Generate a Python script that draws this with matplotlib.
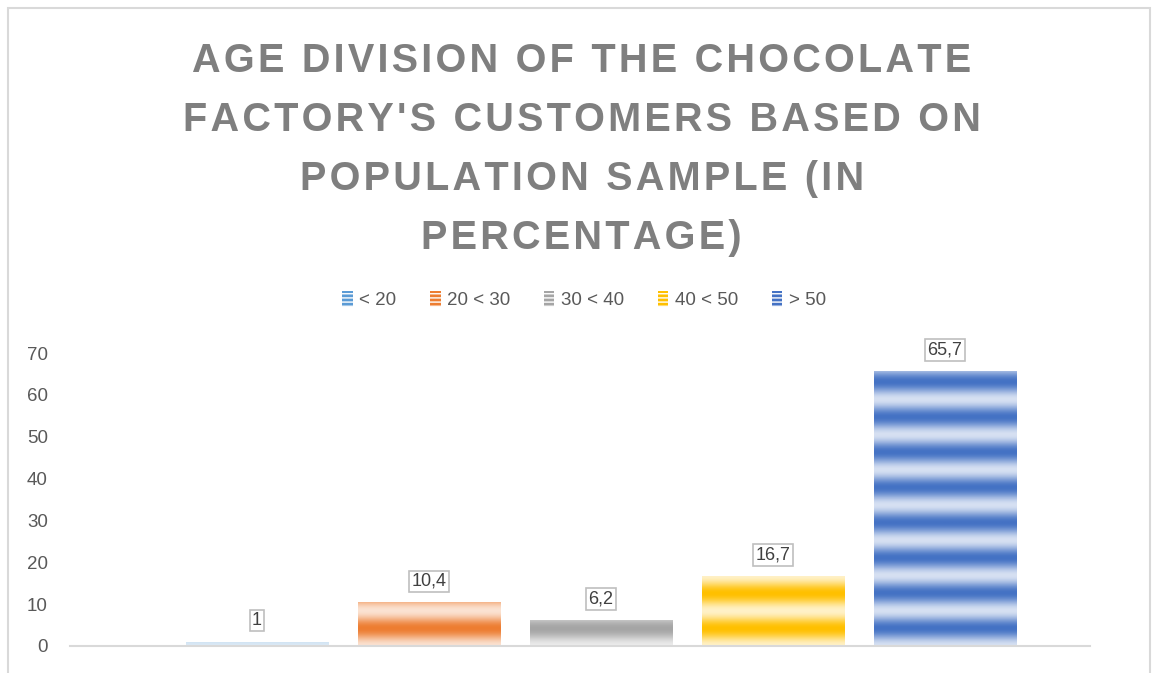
import matplotlib.pyplot as plt
import numpy as np
from matplotlib.patches import Rectangle, Patch
from matplotlib.colors import LinearSegmentedColormap, to_rgb

# data
groups = ['< 20', '20 < 30', '30 < 40', '40 < 50', '> 50']
values = [1, 10.4, 6.2, 16.7, 65.7]
labels = ['1', '10,4', '6,2', '16,7', '65,7']
colors = ['#5b9bd5', '#ed7d31', '#a5a5a5', '#ffc000', '#4472c4']

title_lines = ["AGE DIVISION OF THE CHOCOLATE",
               "FACTORY'S CUSTOMERS BASED ON",
               "POPULATION SAMPLE (IN",
               "PERCENTAGE)"]

plt.rcParams['font.family'] = ['Liberation Sans', 'DejaVu Sans']

fig = plt.figure(figsize=(11.52, 6.73), dpi=100)
ax = fig.add_axes([70 / 1152, 27 / 673, 1020 / 1152, 293 / 673])

bar_w = 142 / 172
period = 8.4  # stripe period in data units

for i, (v, c) in enumerate(zip(values, colors)):
    rgb = np.array(to_rgb(c))
    light = rgb + (1 - rgb) * 0.78
    cmap = LinearSegmentedColormap.from_list('g%d' % i, [light, rgb])
    # striped fill clipped to the bar
    rect = ax.bar(i, v, width=bar_w, color='none', edgecolor='none')[0]
    ys = np.linspace(0, v, 400)
    grad = (1 - np.cos(2 * np.pi * ys / period)) / 2
    im = ax.imshow(grad[::-1, None], cmap=cmap, aspect='auto',
                   extent=(i - bar_w / 2, i + bar_w / 2, 0, v),
                   vmin=0, vmax=1, zorder=2)
    im.set_clip_path(rect)
    ax.text(i, v + 21 / 293 * 70, labels[i], ha='center', va='center',
            fontsize=13, color='#404040', zorder=4,
            bbox=dict(boxstyle='square,pad=0.12', fc='white', ec='#bfbfbf', lw=1.2))

ax.set_xlim(-1.087, 4.843)
ax.set_ylim(0, 70)
ax.set_yticks(range(0, 71, 10))
ax.set_xticks([])
for s in ['top', 'right', 'left']:
    ax.spines[s].set_visible(False)
ax.spines['bottom'].set_color('#d9d9d9')
ax.spines['bottom'].set_linewidth(1.5)
ax.spines['bottom'].set_zorder(3)
ax.tick_params(axis='y', length=0, pad=16, labelsize=13.5, labelcolor='#595959')

# legend
handles = [Patch(facecolor=c, edgecolor='white', hatch='----', lw=0) for c in colors]
fig.legend(handles, groups, loc='center', bbox_to_anchor=(0.507, 1 - 300 / 673),
           ncol=5, frameon=False, fontsize=13.5, labelcolor='#595959',
           handlelength=0.55, handleheight=1.0, handletextpad=0.35, columnspacing=1.8)

# title with a little letter spacing
spaced = '\n'.join('\u200a'.join(line) for line in title_lines)
fig.text(0.505, 1 - 42 / 673, spaced, ha='center', va='top', fontsize=28.5,
         fontweight='bold', color='#7f7f7f', linespacing=1.7)

# outer chart border
fig.add_artist(Rectangle((8 / 1152, -0.05), 1142 / 1152, 1.05 - 8 / 673,
                         transform=fig.transFigure, fill=False,
                         ec='#d9d9d9', lw=1.5))

fig.savefig('out.png', dpi=100)
